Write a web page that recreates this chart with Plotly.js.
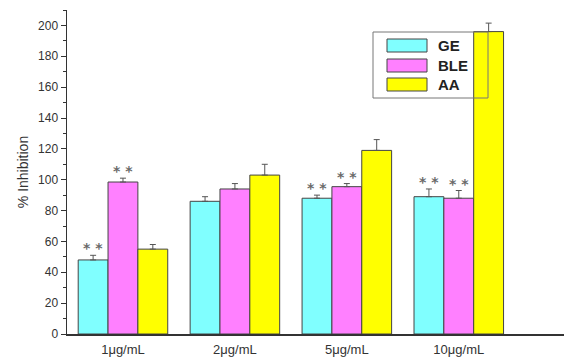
<!DOCTYPE html>
<html><head><meta charset="utf-8">
<script src="https://cdn.plot.ly/plotly-3.0.1.min.js"></script>
<style>body{margin:0;background:#fff}#c{width:564px;height:358px}</style>
</head><body><div id="c"></div>
<script>
var categories = ["1\u03bcg/mL", "2\u03bcg/mL", "5\u03bcg/mL", "10\u03bcg/mL"];
var seriesNames = ["GE", "BLE", "AA"];
var geValues = [48, 86, 88, 89];
var geErrors = [3, 3, 2, 5];
var bleValues = [98.5, 94, 95.5, 88];
var bleErrors = [2.5, 3.5, 2, 5];
var aaValues = [55, 103, 119, 196];
var aaErrors = [3, 7, 7, 5.5];
var geStars = ["**", "", "**", "**"];
var bleStars = ["**", "", "**", "**"];
var aaStars = ["", "", "", ""];
var colors = ["#80ffff", "#ff80ff", "#ffff00"];

var values = [geValues, bleValues, aaValues];
var errors = [geErrors, bleErrors, aaErrors];
var stars = [geStars, bleStars, aaStars];

var W = 564, H = 358, L = 67, R = 0, T = 10, B = 24;
function px(x){ return (x - L) / (W - L - R); }
function py(y){ return (H - B - y) / (H - T - B); }
var FONT = 'Liberation Sans, Arial, sans-serif';

var traces = seriesNames.map(function(n, i){
  return {
    type: 'bar', name: n, x: categories, y: values[i],
    marker: {color: colors[i], line: {color: '#444', width: 1}},
    error_y: {type: 'data', array: errors[i], arrayminus: errors[i].map(function(){return 0;}),
      symmetric: false, color: '#555', thickness: 1, width: 3},
    showlegend: false, hoverinfo: 'skip'
  };
});

var annotations = [];
var barPx = 30;
stars.forEach(function(s, i){
  s.forEach(function(t, j){
    if (!t) return;
    annotations.push({x: categories[j], y: values[i][j] + errors[i][j], xref: 'x', yref: 'y',
      text: '<b>' + t.split('').join(' ') + '</b>', showarrow: false, yanchor: 'bottom', xshift: (i - 1) * barPx, yshift: -3,
      font: {family: 'DejaVu Sans, sans-serif', size: 14, color: '#6a6a6a'}});
  });
});

var shapes = [{type: 'rect', xref: 'paper', yref: 'paper', x0: px(373), x1: px(488), y0: py(98), y1: py(32),
  line: {color: '#777', width: 1}, fillcolor: 'rgba(0,0,0,0)'}];
var swY = [[39, 52], [59, 72], [78, 91]];
seriesNames.forEach(function(n, i){
  shapes.push({type: 'rect', xref: 'paper', yref: 'paper', x0: px(387), x1: px(427), y0: py(swY[i][1]), y1: py(swY[i][0]),
    line: {color: '#444', width: 1}, fillcolor: colors[i]});
  annotations.push({xref: 'paper', yref: 'paper', x: px(436), y: py((swY[i][0] + swY[i][1]) / 2), xanchor: 'left', yanchor: 'middle',
    text: '<b>' + n + '</b>', showarrow: false, font: {family: FONT, size: 15, color: '#222'}});
});

var layout = {
  width: W, height: H, margin: {l: L, r: R, t: T, b: B},
  paper_bgcolor: '#fff', plot_bgcolor: '#fff',
  barmode: 'group', bargap: 0.2, bargroupgap: 0,
  font: {family: FONT, size: 12, color: '#333'},
  xaxis: {range: [-0.5, 3.94], showline: true, linecolor: '#333', linewidth: 1.5, ticks: '', showgrid: false, zeroline: false,
    tickfont: {size: 13, color: '#333'}, ticklabelstandoff: 3, fixedrange: true},
  yaxis: {range: [0, 210], showline: true, linecolor: '#333', linewidth: 1.5, ticks: 'outside', ticklen: 5, tickcolor: '#333',
    tickwidth: 1, dtick: 20, tick0: 0, showgrid: false, zeroline: false, tickfont: {size: 12, color: '#333'},
    minor: {dtick: 10, ticks: 'outside', ticklen: 3, tickcolor: '#333', showgrid: false},
    title: {text: '% Inhibition', font: {size: 14, color: '#333'}, standoff: 6}},
  shapes: shapes, annotations: annotations, showlegend: false
};
Plotly.newPlot('c', traces, layout, {staticPlot: true});
</script></body></html>
